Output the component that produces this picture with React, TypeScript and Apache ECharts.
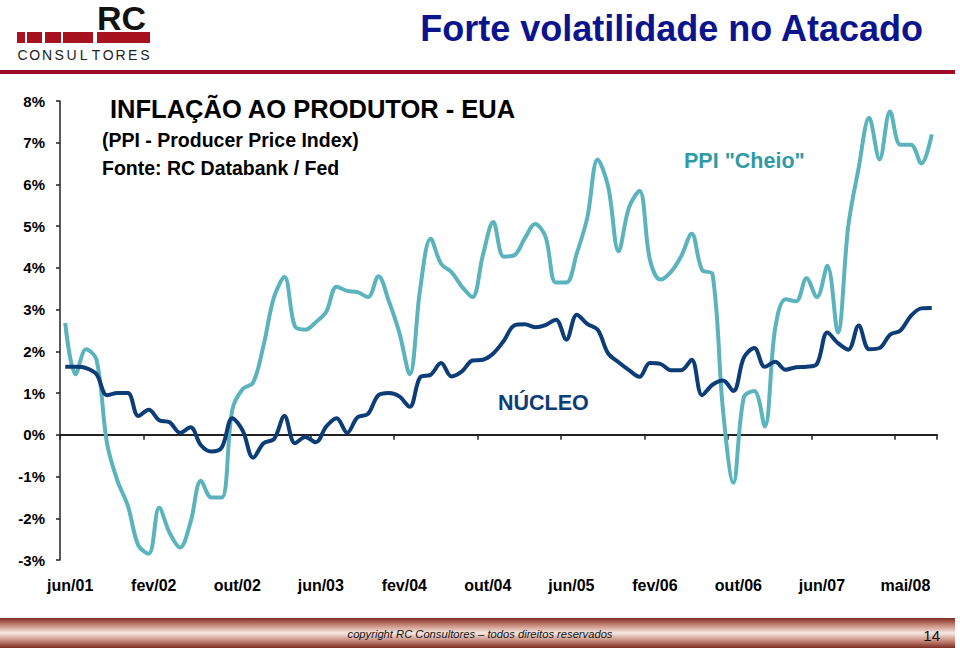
import React, { useEffect, useRef } from "react";
import * as echarts from "echarts";

const monthNames = ["jan", "fev", "mar", "abr", "mai", "jun", "jul", "ago", "set", "out", "nov", "dez"];
// 84 monthly categories: jun/01 ... mai/08
const categories: string[] = [];
for (let k = 0; k < 84; k++) {
  const m = (5 + k) % 12;
  const y = 1 + Math.floor((5 + k) / 12);
  categories.push(`${monthNames[m]}/${String(y).padStart(2, "0")}`);
}

const tickLabels = ["jun/01", "fev/02", "out/02", "jun/03", "fev/04", "out/04", "jun/05", "fev/06", "out/06", "jun/07", "mai/08"];

const ppiCheio = [
  2.68, 1.45, 2.05, 1.8, -0.2, -1.1, -1.7, -2.65, -2.85, -1.75,
  -2.35, -2.7, -2.1, -1.1, -1.5, -1.5, 0.6, 1.1, 1.25, 2.15,
  3.3, 3.78, 2.6, 2.52, 2.7, 2.95, 3.55, 3.45, 3.42, 3.3,
  3.8, 3.2, 2.45, 1.45, 3.5, 4.7, 4.1, 3.9, 3.55, 3.3,
  4.3, 5.1, 4.27, 4.3, 4.7, 5.05, 4.75, 3.65, 3.65, 4.35,
  5.2, 6.6, 5.95, 4.4, 5.45, 5.85, 4.2, 3.72, 3.9, 4.28,
  4.82, 3.95, 3.85, 0.6, -1.15, 0.9, 1.05, 0.2, 2.55, 3.25,
  3.2, 3.75, 3.3, 4.05, 2.45, 5.0, 6.4, 7.6, 6.6, 7.75,
  6.95, 6.95, 6.5, 7.2,
];

const nucleo = [
  1.63, 1.63, 1.6, 1.45, 0.95, 1.0, 1.0, 0.45, 0.6, 0.35,
  0.3, 0.05, 0.18, -0.25, -0.4, -0.3, 0.4, 0.1, -0.55, -0.2,
  -0.1, 0.45, -0.2, -0.05, -0.18, 0.2, 0.4, 0.05, 0.42, 0.5,
  0.95, 1.0, 0.92, 0.67, 1.38, 1.44, 1.72, 1.4, 1.52, 1.78,
  1.8, 1.95, 2.25, 2.62, 2.65, 2.58, 2.63, 2.76, 2.28, 2.88,
  2.66, 2.52, 1.95, 1.74, 1.55, 1.39, 1.72, 1.7, 1.55, 1.55,
  1.8, 0.95, 1.2, 1.3, 1.05, 1.85, 2.08, 1.63, 1.75, 1.56,
  1.62, 1.63, 1.7, 2.45, 2.2, 2.04, 2.62, 2.05, 2.08, 2.4,
  2.5, 2.85, 3.03, 3.04,
];

const FONT = "'Liberation Sans', Arial, Helvetica, sans-serif";
const TEAL = "#5BB3BE";
const NAVY = "#0C3D77";

export default function App() {
  const ref = useRef<HTMLDivElement>(null);

  useEffect(() => {
    document.body.style.margin = "0";
    if (!ref.current) return;
    const chart = echarts.init(ref.current, undefined, { renderer: "svg" });

    const logoLetters = "CONSULTORES".split("").map((ch, i) => ({
      type: "text",
      x: 22.5 + i * 12.25,
      y: 55,
      style: {
        text: ch,
        fill: "#222",
        font: `normal 14px ${FONT}`,
        textAlign: "center",
        textVerticalAlign: "middle",
      },
    }));

    const barSegs = [
      [17, 8],
      [27, 15],
      [45, 16],
      [63, 30],
      [97, 53],
    ].map(([x, w]) => ({
      type: "rect",
      shape: { x, y: 32, width: w, height: 11 },
      style: { fill: "#A8121E" },
    }));

    const option: any = {
      animation: false,
      backgroundColor: "#ffffff",
      grid: { left: 60, right: 23, top: 101, bottom: 92 },
      xAxis: [
        {
          type: "category",
          data: categories,
          position: "bottom",
          boundaryGap: true,
          axisLine: { show: true, onZero: true, lineStyle: { color: "#222", width: 2 } },
          axisTick: { show: true, interval: 7, length: 5, lineStyle: { color: "#222", width: 1.5 } },
          axisLabel: { show: false },
          splitLine: { show: false },
          z: 1,
        },
        {
          type: "category",
          data: categories,
          position: "bottom",
          boundaryGap: true,
          axisLine: { show: false, onZero: false },
          axisTick: { show: false },
          axisLabel: {
            show: true,
            interval: 0,
            margin: 17,
            padding: [0, 0, 0, 10],
            color: "#000",
            fontFamily: FONT,
            fontWeight: "bold",
            fontSize: 16,
            formatter: (_v: string, idx: number) => (idx % 8 === 0 && tickLabels[idx / 8] ? tickLabels[idx / 8] : ""),
          },
          splitLine: { show: false },
        },
      ],
      yAxis: {
        type: "value",
        min: -3,
        max: 8,
        interval: 1,
        axisLine: { show: true, onZero: false, lineStyle: { color: "#222", width: 1.5 } },
        axisTick: { show: true, length: 4, lineStyle: { color: "#222", width: 1.5 } },
        axisLabel: {
          margin: 15,
          color: "#000",
          fontFamily: FONT,
          fontWeight: "bold",
          fontSize: 15,
          formatter: (v: number) => `${v}%`,
        },
        splitLine: { show: false },
      },
      series: [
        {
          name: 'PPI "Cheio"',
          type: "line",
          xAxisIndex: 0,
          data: ppiCheio,
          smooth: 0.35,
          symbol: "none",
          lineStyle: { color: TEAL, width: 4 },
          z: 3,
        },
        {
          name: "NÚCLEO",
          type: "line",
          xAxisIndex: 0,
          data: nucleo,
          smooth: 0.35,
          symbol: "none",
          lineStyle: { color: NAVY, width: 4 },
          z: 4,
        },
      ],
      graphic: [
        // logo
        {
          type: "text",
          x: 97,
          y: 17.5,
          style: {
            text: "RC",
            fill: "#111",
            font: `bold 34px ${FONT}`,
            textAlign: "left",
            textVerticalAlign: "middle",
          },
        },
        ...barSegs,
        ...logoLetters,
        {
          type: "rect",
          shape: { x: 0, y: 70, width: 955, height: 4 },
          style: { fill: "#9E0B25" },
        },
        {
          type: "text",
          x: 923,
          y: 28,
          style: {
            text: "Forte volatilidade no Atacado",
            fill: "#0B148C",
            font: `bold 36px ${FONT}`,
            textAlign: "right",
            textVerticalAlign: "middle",
          },
        },
        // chart titles
        {
          type: "text",
          x: 110,
          y: 109,
          style: {
            text: "INFLAÇÃO AO PRODUTOR - EUA",
            fill: "#000",
            font: `bold 25.5px ${FONT}`,
            textAlign: "left",
            textVerticalAlign: "middle",
          },
        },
        {
          type: "text",
          x: 102,
          y: 140,
          style: {
            text: "(PPI - Producer Price Index)",
            fill: "#000",
            font: `bold 19.5px ${FONT}`,
            textAlign: "left",
            textVerticalAlign: "middle",
          },
        },
        {
          type: "text",
          x: 102,
          y: 168,
          style: {
            text: "Fonte: RC Databank / Fed",
            fill: "#000",
            font: `bold 19.5px ${FONT}`,
            textAlign: "left",
            textVerticalAlign: "middle",
          },
        },
        {
          type: "text",
          x: 684,
          y: 161,
          style: {
            text: 'PPI "Cheio"',
            fill: "#2E9BA7",
            font: `bold 21.5px ${FONT}`,
            textAlign: "left",
            textVerticalAlign: "middle",
          },
        },
        {
          type: "text",
          x: 498,
          y: 403,
          style: {
            text: "NÚCLEO",
            fill: NAVY,
            font: `bold 21.5px ${FONT}`,
            textAlign: "left",
            textVerticalAlign: "middle",
          },
        },
        // footer
        {
          type: "rect",
          shape: { x: 0, y: 618, width: 955, height: 30 },
          style: {
            fill: new echarts.graphic.LinearGradient(0, 0, 0, 1, [
              { offset: 0, color: "#7E2B22" },
              { offset: 0.25, color: "#C98D7F" },
              { offset: 0.5, color: "#F6E8E2" },
              { offset: 0.75, color: "#C98D7F" },
              { offset: 1, color: "#7E2B22" },
            ]),
          },
        },
        {
          type: "text",
          x: 480,
          y: 634,
          style: {
            text: "copyright RC Consultores – todos direitos reservados",
            fill: "#111",
            font: `italic 11.2px ${FONT}`,
            textAlign: "center",
            textVerticalAlign: "middle",
          },
        },
        {
          type: "text",
          x: 940,
          y: 635,
          style: {
            text: "14",
            fill: "#111",
            font: `normal 15px ${FONT}`,
            textAlign: "right",
            textVerticalAlign: "middle",
          },
        },
      ],
    };

    chart.setOption(option);
    return () => chart.dispose();
  }, []);

  return <div ref={ref} style={{ width: 960, height: 652 }} />;
}
